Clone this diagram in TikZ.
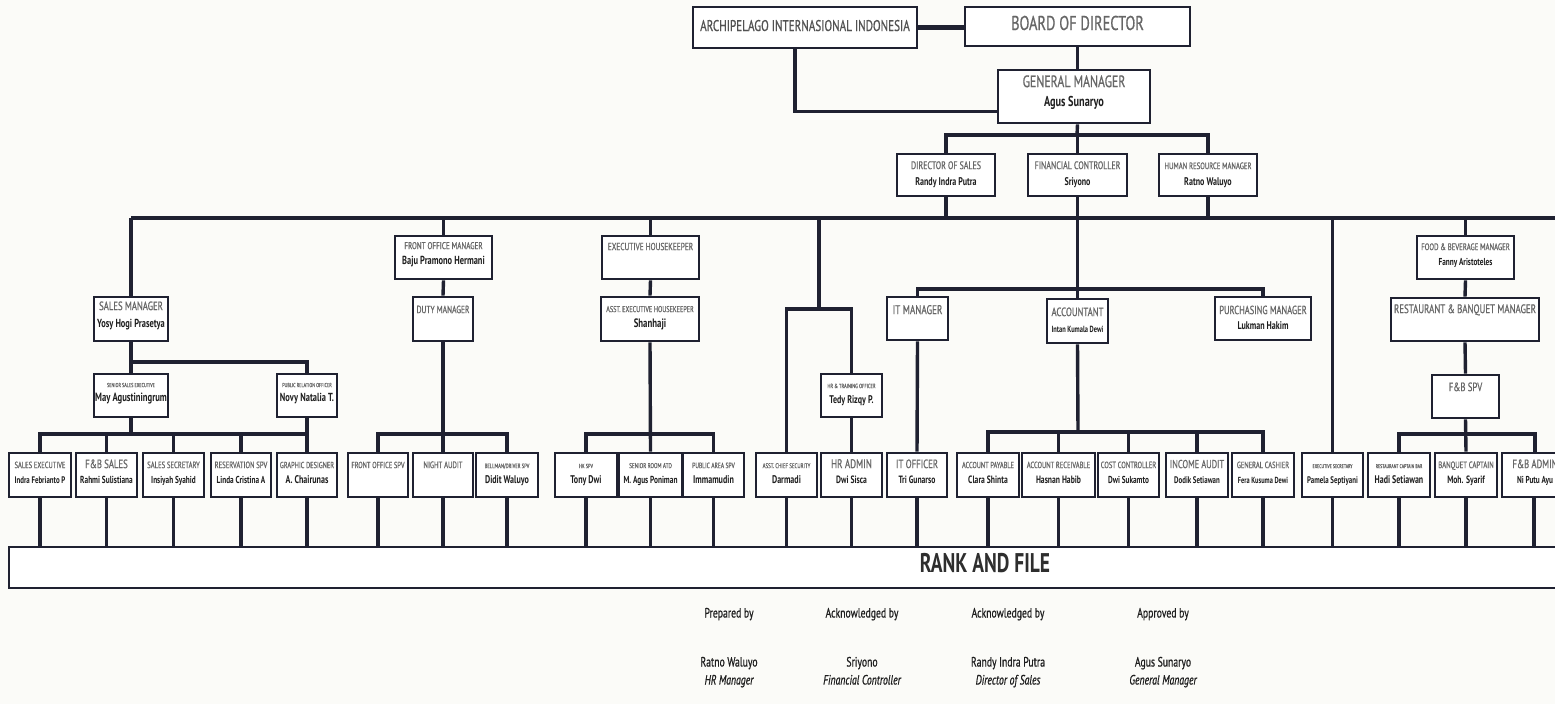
\documentclass[tikz,border=0pt]{standalone}
\usepackage{fontspec}
\setmainfont{PT Sans}[FakeStretch=0.72]
\newfontfamily\medf{PT Sans}[FakeStretch=0.72, FakeBold=0.7]
\usetikzlibrary{calc}
\definecolor{ln}{HTML}{1F2131}
\definecolor{tt}{HTML}{676767}
\definecolor{nm}{HTML}{1E1E1E}
\definecolor{bg}{HTML}{FBFBF8}
\newcommand\fsz[1]{\fontsize{#1}{#1}\selectfont}
\tikzset{
  box/.style={draw=ln, line width=2.8pt, fill=white, inner sep=0pt},
  conn/.style={draw=ln, line width=3.4pt},
  ttlst/.style={text=tt, inner sep=0pt, anchor=mid},
  namst/.style={text=nm, inner sep=0pt, anchor=mid},
  sig/.style={text=nm, inner sep=0pt, anchor=mid, font=\medf\fsz{13.5}},
}
\newcommand\bx[5]{\node[box, minimum width=#4pt-#2pt, minimum height=#5pt-#3pt] (#1) at ({(#2+#4)/2},{(#3+#5)/2}) {};}
\newcommand\ttl[4]{\pgfmathsetmacro\tsz{#3*1.1}\node[ttlst, font=\medf\fsz{\tsz}] (#1-t) at ($(#1.north)+(0,#2-1)$) {#4};}
\newcommand\nam[4]{\pgfmathsetmacro\nsz{#3*1.06}\node[namst, font=\fsz{\nsz}\bfseries] (#1-n) at ($(#1.north)+(0,#2)$) {#4};}
\begin{document}
\begin{tikzpicture}[x=1pt,y=-1pt]
\fill[bg] (0,0) rectangle (1555,704);
\useasboundingbox (0,0) rectangle (1555,704);

% ---------- boxes ----------
\bx{arch}{693}{7}{917}{48}
\bx{bod}{965}{7}{1190}{46}
\bx{gm}{998}{70}{1150}{123}
\bx{dos}{897}{154}{995}{196}
\bx{fc}{1028}{154}{1127}{196}
\bx{hrm}{1159}{154}{1257}{196}
\bx{sm}{94}{297}{168}{341}
\bx{fom}{395}{236}{492}{279}
\bx{dm}{413}{297}{473}{341}
\bx{eh}{602}{236}{699}{279}
\bx{aeh}{601}{297}{699}{341}
\bx{itm}{887}{297}{948}{340}
\bx{acc}{1047}{299}{1108}{343}
\bx{pm}{1215}{297}{1311}{340}
\bx{fbm}{1417}{236}{1514}{279}
\bx{rbm}{1391}{298}{1539}{341}
\bx{fbspv}{1432}{375}{1499}{418}
\bx{sse}{94}{374}{168}{417}
\bx{pro}{277}{374}{337}{417}
\bx{hrt}{821}{374}{882}{417}
% bottom row
\bx{se}{9}{453}{71}{497}
\bx{fbs}{76}{453}{137}{497}
\bx{ss}{143}{453}{204}{497}
\bx{rs}{211}{453}{271}{497}
\bx{gd}{277}{453}{337}{497}
\bx{fos}{348}{453}{408}{497}
\bx{na}{413}{453}{473}{497}
\bx{bd}{476}{453}{538}{497}
\bx{hk}{555}{453}{617}{497}
\bx{sra}{619}{453}{682}{497}
\bx{pa}{683}{453}{744}{497}
\bx{acs}{756}{453}{817}{497}
\bx{hra}{821}{453}{882}{497}
\bx{ito}{887}{453}{947}{497}
\bx{ap}{957}{453}{1019}{497}
\bx{ar}{1022}{453}{1095}{497}
\bx{cc}{1098}{453}{1159}{497}
\bx{ia}{1166}{453}{1228}{497}
\bx{gc}{1232}{453}{1294}{497}
\bx{es}{1302}{453}{1363}{497}
\bx{rcb}{1368}{453}{1430}{497}
\bx{bc}{1435}{453}{1497}{497}
\bx{fba}{1502}{453}{1568}{497}
\node[box, minimum width=1591pt, minimum height=41pt] (rf) at (804.5,567.5) {};

% ---------- coordinates ----------
\coordinate (gmb) at (1077,135);
\coordinate (barL) at (131,218);
\coordinate (barR) at (1570,218);
\coordinate (smb) at (131,362);
\coordinate (busy) at (0,434);
\coordinate (hrj) at (819,309);
\coordinate (fcb) at (1078,289);
\coordinate (accb) at (1078,432);

% ---------- connectors ----------
\begin{scope}[conn]
\draw[line width=4.5pt] (arch.east) -- (arch.east -| bod.west);
\draw (bod.south) -- (bod.south |- gm.north);
\draw ([xshift=-10pt]arch.south) |- ([yshift=-15pt]gm.west);
\draw (gm.south -| bod.south) -- (gmb);
\draw (dos.north) -- (dos.north |- gmb) -- (hrm.north |- gmb) -- (hrm.north);
\draw (fc.north) -- (fc.north |- gmb);
\draw[line width=4pt] (barL) -- (barR);
\draw (dos.south) -- (dos.south |- barL);
\draw (hrm.south) -- (hrm.south |- barL);
\draw (fc.south) -- (acc.north);
\draw (barL) -- (sm.north);
\draw (fom.north |- barL) -- (fom.north);
\draw (eh.north |- barL) -- (eh.north);
\draw (hrj |- barL) -- (hrj);
\draw (acs.north) |- (hrt.north |- hrj) -- (hrt.north);
\draw (itm.north) |- (pm.north |- fcb) -- (pm.north);
\draw (es.north |- barL) -- (es.north);
\draw (fbm.north |- barL) -- (fbm.north);
\draw (fbm.south) -- (rbm.north);
\draw (rbm.south) -- (fbspv.north);
\draw (fom.south) -- (dm.north);
\draw (eh.south) -- (aeh.north);
\draw (sm.south) -- (sse.north);
\draw (smb) -| (pro.north);
\draw (sse.south) -- (sse.south |- busy);
\draw (pro.south) -- (pro.south |- busy);
\draw (se.north) |- (gd.north |- busy) -- (gd.north);
\draw (fbs.north) -- (fbs.north |- busy);
\draw (ss.north) -- (ss.north |- busy);
\draw (rs.north) -- (rs.north |- busy);
\draw (dm.south) -- (na.north);
\draw (fos.north) |- (bd.north |- busy) -- (bd.north);
\draw (aeh.south) -- (sra.north);
\draw (hk.north) |- (pa.north |- busy) -- (pa.north);
\draw (hrt.south) -- (hra.north);
\draw (itm.south) -- (ito.north);
\draw (acc.south) -- (accb);
\draw (ap.north) |- (gc.north |- accb) -- (gc.north);
\draw (ar.north) -- (ar.north |- accb);
\draw (cc.north) -- (cc.north |- accb);
\draw (ia.north) -- (ia.north |- accb);
\draw (fbspv.south) -- (bc.north);
\draw (rcb.north) |- (fba.north |- busy) -- (fba.north);
\foreach \b in {se,fbs,ss,rs,gd,fos,na,bd,hk,sra,pa,acs,hra,ito,ap,ar,cc,ia,gc,es,rcb,bc}
  \draw (\b.south) -- (\b.south |- rf.north);
\draw ([xshift=-1pt]fba.south) -- ([xshift=-1pt]fba.south |- rf.north);
\end{scope}

% ---------- texts ----------
\node[ttlst, font=\medf\fsz{15.5}, text=black!68] (arch-t) at ([yshift=-1pt]arch.center) {ARCHIPELAGO INTERNASIONAL INDONESIA};
\node[ttlst, font=\medf\fsz{20}, text=black!60] (bod-t) at ([yshift=-1pt]bod.center) {BOARD OF DIRECTOR};
\ttl{gm}{17}{15}{GENERAL MANAGER}
\nam{gm}{35}{13.5}{Agus Sunaryo}
\ttl{dos}{15}{10}{DIRECTOR OF SALES}
\nam{dos}{30}{10.5}{Randy Indra Putra}
\ttl{fc}{15}{10}{FINANCIAL CONTROLLER}
\nam{fc}{30}{10.5}{Sriyono}
\ttl{hrm}{15}{8.5}{HUMAN RESOURCE MANAGER}
\nam{hrm}{30}{10.5}{Ratno Waluyo}
\ttl{sm}{13}{11}{SALES MANAGER}
\nam{sm}{29}{11}{Yosy Hogi Prasetya}
\ttl{fom}{13}{9}{FRONT OFFICE MANAGER}
\nam{fom}{27}{11}{Baju Pramono Hermani}
\ttl{dm}{16}{9.5}{DUTY MANAGER}
\ttl{eh}{14}{9.3}{EXECUTIVE HOUSEKEEPER}
\ttl{aeh}{15}{7.8}{ASST. EXECUTIVE HOUSEKEEPER}
\nam{aeh}{29}{11.5}{Shanhaji}
\ttl{itm}{17}{11.5}{IT MANAGER}
\ttl{acc}{17}{11}{ACCOUNTANT}
\nam{acc}{32}{8.4}{Intan Kumala Dewi}
\ttl{pm}{17}{10.7}{PURCHASING MANAGER}
\nam{pm}{31}{10.5}{Lukman Hakim}
\ttl{fbm}{14}{8.6}{FOOD \& BEVERAGE MANAGER}
\nam{fbm}{28}{9.5}{Fanny Aristoteles}
\ttl{rbm}{15}{11.2}{RESTAURANT \& BANQUET MANAGER}
\ttl{fbspv}{16}{11}{F\&B SPV}
\ttl{sse}{13}{5.3}{SENIOR SALES EXECUTIVE}
\nam{sse}{26}{11.3}{May Agustiningrum}
\ttl{pro}{13}{5.3}{PUBLIC RELATION OFFICER}
\nam{pro}{26}{11}{Novy Natalia T.}
\ttl{hrt}{14}{5.6}{HR \& TRAINING OFFICER}
\nam{hrt}{28}{10.5}{Tedy Rizqy P.}
% bottom row
\ttl{se}{15}{8.2}{SALES EXECUTIVE}
\nam{se}{29}{9}{Indra Febrianto P}
\ttl{fbs}{15}{11}{F\&B SALES}
\nam{fbs}{29}{9.6}{Rahmi Sulistiana}
\ttl{ss}{15}{8.4}{SALES SECRETARY}
\nam{ss}{29}{9.5}{Insiyah Syahid}
\ttl{rs}{15}{8.4}{RESERVATION SPV}
\nam{rs}{29}{9.5}{Linda Cristina A}
\ttl{gd}{15}{8}{GRAPHIC DESIGNER}
\nam{gd}{29}{10.5}{A. Chairunas}
\ttl{fos}{15}{8.1}{FRONT OFFICE SPV}
\ttl{na}{15}{8.5}{NIGHT AUDIT}
\ttl{bd}{15}{5.8}{BELLMAN/DRIVER SPV}
\nam{bd}{29}{10.5}{Didit Waluyo}
\ttl{hk}{15}{5.5}{HK SPV}
\nam{hk}{29}{10.5}{Tony Dwi}
\ttl{sra}{15}{6.5}{SENIOR ROOM ATD}
\nam{sra}{29}{9.6}{M. Agus Poniman}
\ttl{pa}{15}{7}{PUBLIC AREA SPV}
\nam{pa}{29}{10.5}{Immamudin}
\ttl{acs}{15}{6.2}{ASST. CHIEF SECURITY}
\nam{acs}{29}{10.5}{Darmadi}
\ttl{hra}{15}{11.4}{HR ADMIN}
\nam{hra}{29}{10}{Dwi Sisca}
\ttl{ito}{15}{11}{IT OFFICER}
\nam{ito}{29}{10}{Tri Gunarso}
\ttl{ap}{15}{8}{ACCOUNT PAYABLE}
\nam{ap}{29}{10}{Clara Shinta}
\ttl{ar}{15}{8.2}{ACCOUNT RECEIVABLE}
\nam{ar}{29}{10}{Hasnan Habib}
\ttl{cc}{15}{8.3}{COST CONTROLLER}
\nam{cc}{29}{9.5}{Dwi Sukamto}
\ttl{ia}{15}{10.5}{INCOME AUDIT}
\nam{ia}{29}{9}{Dodik Setiawan}
\ttl{gc}{15}{8.2}{GENERAL CASHIER}
\nam{gc}{29}{8.3}{Fera Kusuma Dewi}
\ttl{es}{15}{5}{EXECUTIVE SECRETARY}
\nam{es}{29}{9}{Pamela Septiyani}
\ttl{rcb}{15}{5}{RESTAURANT CAPTAIN BAR}
\nam{rcb}{29}{10.4}{Hadi Setiawan}
\ttl{bc}{15}{8.5}{BANQUET CAPTAIN}
\nam{bc}{29}{10}{Moh. Syarif}
\ttl{fba}{15}{11}{F\&B ADMIN}
\nam{fba}{29}{9.5}{Ni Putu Ayu}
\node[namst, font=\fsz{27}\bfseries, text=black!82] (rf-t) at (985,570) {RANK AND FILE};

% ---------- signatures ----------
\node[sig] (s1a) at (729,615) {Prepared by};
\node[sig] (s2a) at (862,615) {Acknowledged by};
\node[sig] (s3a) at (1008,615) {Acknowledged by};
\node[sig] (s4a) at (1163,615) {Approved by};
\node[sig] (s1b) at (729,664) {Ratno Waluyo};
\node[sig] (s2b) at (862,664) {Sriyono};
\node[sig] (s3b) at (1008,664) {Randy Indra Putra};
\node[sig] (s4b) at (1163,664) {Agus Sunaryo};
\node[sig, font=\medf\fsz{13.5}\itshape] (s1c) at (729,682) {HR Manager};
\node[sig, font=\medf\fsz{13.5}\itshape] (s2c) at (862,682) {Financial Controller};
\node[sig, font=\medf\fsz{13.5}\itshape] (s3c) at (1008,682) {Director of Sales};
\node[sig, font=\medf\fsz{13.5}\itshape] (s4c) at (1163,682) {General Manager};
\end{tikzpicture}
\end{document}
